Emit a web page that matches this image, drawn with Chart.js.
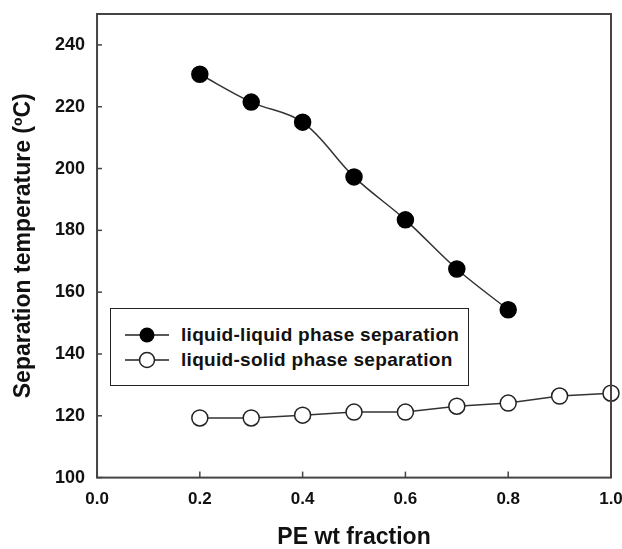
<!DOCTYPE html>
<html>
<head>
<meta charset="utf-8">
<script src="https://cdn.jsdelivr.net/npm/chart.js@4"></script>
<style>
  html, body { margin: 0; padding: 0; background: #fff; }
  #wrap { position: relative; width: 622px; height: 549px; }
  #legend {
    position: absolute; left: 110px; top: 308px; width: 359px; height: 78px;
    border: 1.5px solid #222; box-sizing: border-box; background: #fff;
    font-family: "Liberation Sans", Arial, sans-serif; font-weight: bold; font-size: 19px;
    letter-spacing: 0.3px; color: #111;
  }
  .row { position: absolute; left: 14px; height: 22px; display: flex; align-items: center; white-space: nowrap; }
  .row svg { margin-right: 12px; }
</style>
</head>
<body>
<div id="wrap">
  <canvas id="chart" width="622" height="549"></canvas>
  <div id="legend">
    <div class="row" style="top:15px">
      <svg width="44" height="20"><line x1="0" y1="10" x2="44" y2="10" stroke="#222" stroke-width="1.5"/><circle cx="22" cy="10" r="7.5" fill="#000"/></svg>
      <span>liquid-liquid phase separation</span>
    </div>
    <div class="row" style="top:40px">
      <svg width="44" height="20"><line x1="0" y1="10" x2="44" y2="10" stroke="#222" stroke-width="1.5"/><circle cx="22" cy="10" r="7.5" fill="#fff" stroke="#222" stroke-width="1.5"/></svg>
      <span>liquid-solid phase separation</span>
    </div>
  </div>
</div>
<script>
// --- DATA ---
const llFraction = [0.2, 0.3, 0.4, 0.5, 0.6, 0.7, 0.8];
const llTemp = [230.5, 221.5, 215, 197.3, 183.4, 167.5, 154.3];
const lsFraction = [0.2, 0.3, 0.4, 0.5, 0.6, 0.7, 0.8, 0.9, 1.0];
const lsTemp = [119.3, 119.3, 120.2, 121.2, 121.2, 123.1, 124.1, 126.4, 127.3];
const yTicks = [100, 120, 140, 160, 180, 200, 220, 240];
const xTicks = [0.0, 0.2, 0.4, 0.6, 0.8, 1.0];

const toPoints = (xs, ys) => xs.map((x, i) => ({ x: x, y: ys[i] }));

// frame around the plot area + inward tick marks
const framePlugin = {
    id: 'frame',
    afterDraw(chart) {
        const a = chart.chartArea, ctx = chart.ctx;
        const xs = chart.scales.x, ys = chart.scales.y;
        ctx.save();
        ctx.strokeStyle = '#444';
        ctx.lineWidth = 2;
        ctx.strokeRect(a.left, a.top, a.right - a.left, a.bottom - a.top);
        ctx.lineWidth = 1.5;
        xTicks.forEach(v => {
            const px = xs.getPixelForValue(v);
            ctx.beginPath();
            ctx.moveTo(px, a.bottom);
            ctx.lineTo(px, a.bottom - 6);
            ctx.stroke();
        });
        yTicks.forEach(v => {
            const py = ys.getPixelForValue(v);
            ctx.beginPath();
            ctx.moveTo(a.left, py);
            ctx.lineTo(a.left + 5, py);
            ctx.stroke();
        });
        ctx.restore();
    }
};

// labels may spill past the plot edges, like in the original
const noEdgePadding = s => { s.paddingLeft = 0; s.paddingRight = 0; s.paddingTop = 0; s.paddingBottom = 0; };

const yTickFont = { family: '"Liberation Sans", Arial, sans-serif', weight: 'bold', size: 18, lineHeight: 1 };
const xTickFont = { family: '"Liberation Sans", Arial, sans-serif', weight: 'bold', size: 17, lineHeight: 1.2 };
const titleFont = { family: '"Liberation Sans", Arial, sans-serif', weight: 'bold', size: 23, lineHeight: 1 };

new Chart(document.getElementById('chart').getContext('2d'), {
    type: 'line',
    data: {
        datasets: [{
            label: 'liquid-liquid phase separation',
            data: toPoints(llFraction, llTemp),
            borderColor: '#333',
            borderWidth: 1.5,
            backgroundColor: '#000',
            pointBackgroundColor: '#000',
            pointBorderColor: '#000',
            pointRadius: 8,
            tension: 0.35
        }, {
            label: 'liquid-solid phase separation',
            data: toPoints(lsFraction, lsTemp),
            borderColor: '#333',
            borderWidth: 1.5,
            pointBackgroundColor: '#fff',
            pointBorderColor: '#222',
            pointBorderWidth: 1.5,
            pointRadius: 8,
            tension: 0
        }]
    },
    options: {
        responsive: false,
        animation: false,
        clip: false,
        layout: { padding: { top: 14, right: 11, left: 0, bottom: 0 } },
        plugins: { legend: { display: false }, tooltip: { enabled: false } },
        scales: {
            x: {
                type: 'linear', min: 0, max: 1,
                afterBuildTicks: s => { s.ticks = xTicks.map(v => ({ value: v })); },
                afterFit: noEdgePadding,
                ticks: { color: '#111', font: xTickFont, padding: 12, callback: v => v.toFixed(1) },
                grid: { drawOnChartArea: false, drawTicks: false },
                border: { display: false },
                title: { display: true, text: 'PE wt fraction', color: '#111', font: titleFont, padding: { top: 4, bottom: 0 } }
            },
            y: {
                min: 100, max: 250,
                afterBuildTicks: s => { s.ticks = yTicks.map(v => ({ value: v })); },
                afterFit: noEdgePadding,
                ticks: { color: '#111', font: yTickFont, padding: 12 },
                grid: { drawOnChartArea: false, drawTicks: false },
                border: { display: false },
                title: { display: true, text: 'Separation temperature (ºC)', color: '#111', font: titleFont, padding: { top: 12, bottom: 8 } }
            }
        }
    },
    plugins: [framePlugin]
});
</script>
</body>
</html>
